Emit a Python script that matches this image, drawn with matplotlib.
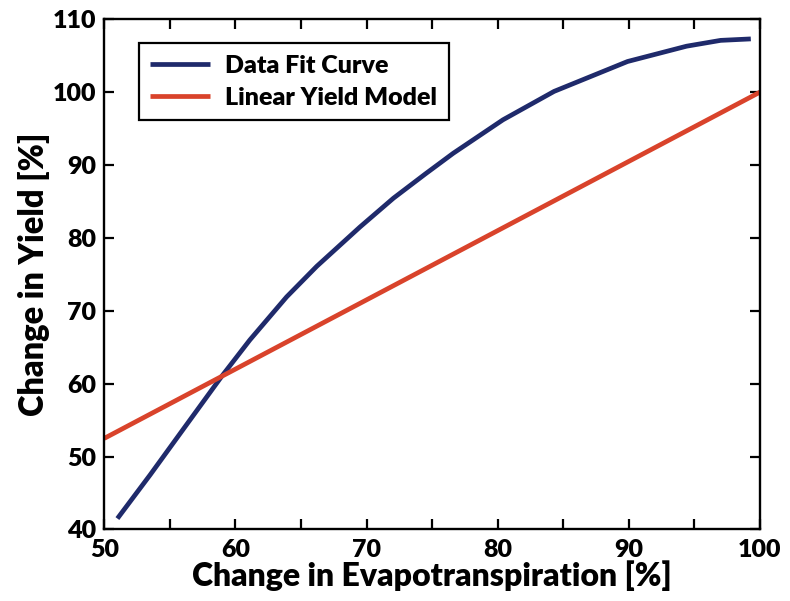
import matplotlib
matplotlib.use("Agg")
import matplotlib.pyplot as plt
from matplotlib.ticker import MultipleLocator

# values
et_fit = [51.0, 53.5, 56.0, 58.95, 61.1, 63.9, 66.2, 69.5, 72.05, 74.5,
          76.6, 80.4, 84.3, 89.9, 94.4, 97.0, 99.3]
yield_fit = [41.5, 47.5, 53.7, 61.0, 66.0, 71.9, 76.1, 81.5, 85.45, 88.8,
             91.6, 96.2, 100.1, 104.2, 106.3, 107.1, 107.3]

et_linear = [50, 100]
yield_linear = [52.5, 100.0]

plt.rcParams['font.family'] = ['Lato', 'DejaVu Sans']
plt.rcParams['font.weight'] = 'heavy'
plt.rcParams['axes.labelweight'] = 'heavy'

fig = plt.figure(figsize=(7.9, 6.01), dpi=100)
ax = fig.add_axes([0.132, 0.119, 0.830, 0.849])

ax.plot(et_fit, yield_fit, color='#1f2a6b', lw=3.4, label='Data Fit Curve',
        solid_capstyle='butt')
ax.plot(et_linear, yield_linear, color='#d9432b', lw=3.4, label='Linear Yield Model',
        solid_capstyle='butt')

ax.set_xlim(50, 100)
ax.set_ylim(40, 110)
ax.xaxis.set_major_locator(MultipleLocator(10))
ax.xaxis.set_minor_locator(MultipleLocator(5))
ax.yaxis.set_major_locator(MultipleLocator(10))

ax.tick_params(which='both', direction='in', top=True, right=True,
               length=7, width=1.6, labelsize=18)
ax.tick_params(axis='x', pad=7)
ax.tick_params(axis='y', pad=6)
for s in ax.spines.values():
    s.set_linewidth(1.7)

ax.set_xlabel('Change in Evapotranspiration [%]', fontsize=23, labelpad=-1)
ax.set_ylabel('Change in Yield [%]', fontsize=23.5, labelpad=2)

leg = ax.legend(loc='upper left', bbox_to_anchor=(0.034, 0.977), fontsize=18,
                fancybox=False, framealpha=1, edgecolor='black',
                handlelength=2.4, borderpad=0.45, labelspacing=0.42, handletextpad=0.6)
leg.get_frame().set_linewidth(1.6)

fig.savefig('out.png', dpi=100)
